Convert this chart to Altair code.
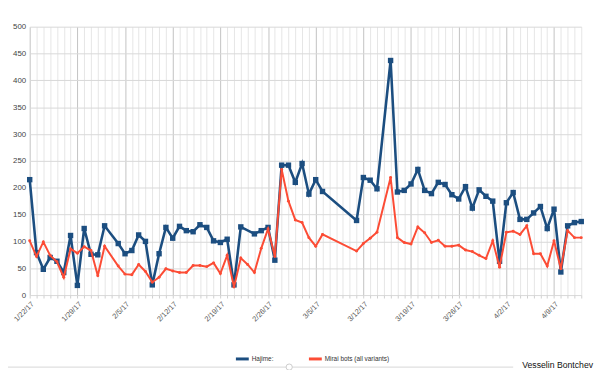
import altair as alt
import pandas as pd

start_date = "2017-01-22"
n_days = 82
series_names = ["Hajime:", "Mirai bots (all variants)"]
colors = ["#1c4e80", "#fc4c35"]
y_ticks = list(range(0, 501, 50))
credit = "Vesselin Bontchev"

hajime = [215, 79, 48, 70, 63, 42, 111, 18, 124, 76, 75, 129, None,
          96, 77, 83, 112, 100, 19, 77, 126, 106, 128, 120, 118, 131, 126, 101, 98, 104, 19, 127,
          None, 114, 120, 126, 65, 242, 242, 210, 245, 188, 215, 193,
          None, None, None, None, 139, 219, 214, 198, None,
          437, 192, 195, 207, 234, 195, 189, 210, 206, 187, 179, 202, 162, 196, 184, 175, 63,
          172, 191, 141, 141, 153, 165, 124, 160, 43, 129, 135, 137]

mirai = [101, 72, 99, 74, 62, 33, 86, 78, 90, 83, 36, 91, None,
         54, 39, 38, 57, 44, 24, 33, 49, 45, 42, 42, 55, 55, 53, 60, 40, 74, 15, 69,
         57, 42, 87, 123, 72, 234, 175, 140, 135, 107, 91, 113,
         None, None, None, None, 82, 96, 106, 117, None,
         219, 107, 98, 95, 127, 116, 98, 102, 91, 91, 93, 84, 81, 74, 68, 101, 52,
         117, 119, 113, 129, 77, 77, 54, 101, 49, 120, 107, 107]

dates = pd.date_range(start_date, periods=n_days, freq="D")
rows = []
for name, vals in zip(series_names, [hajime, mirai]):
    for d, v in zip(dates, vals):
        if v is not None:
            rows.append({"date": d.strftime("%Y-%m-%d"), "series": name, "value": v})
df = pd.DataFrame(rows)

tick_ms = [int(d.timestamp() * 1000) for d in dates]

FONT = "Liberation Sans"

x_enc = alt.X(
    "date:T",
    scale=alt.Scale(type="utc", domain=[tick_ms[0], tick_ms[-1]], nice=False),
    axis=alt.Axis(
        values=tick_ms,
        labelExpr="utcday(datum.value)==0 ? utcFormat(datum.value, '%-m/%-d/%y') : ''",
        labelAngle=-45, labelFontSize=7.5, labelColor="#555", labelFont=FONT,
        labelOverlap=False, labelPadding=2,
        tickSize=3, tickColor="#cfcfcf", domain=False,
        grid=True,
        gridColor={"condition": {"test": "utcday(datum.value)==0", "value": "#c2c2c2"},
                   "value": "#e6e6e6"},
        title=None,
    ),
)
y_enc = alt.Y(
    "value:Q",
    scale=alt.Scale(domain=[0, 500], nice=False),
    axis=alt.Axis(values=y_ticks, grid=True, gridColor="#d8d8d8", ticks=False,
                  domain=False, labelFontSize=8, labelColor="#444", labelFont=FONT,
                  labelPadding=4, title=None),
)

color_enc = alt.Color(
    "series:N",
    scale=alt.Scale(domain=series_names, range=colors),
    legend=alt.Legend(
        orient="none", legendX=207, legendY=328, direction="horizontal", title=None,
        symbolType="stroke", symbolStrokeWidth=3, symbolSize=170,
        labelFontSize=6.5, labelColor="#333", labelFont=FONT,
        columnPadding=28, labelOffset=1,
    ),
)

base = alt.Chart(df)

line_h = base.transform_filter(alt.datum.series == series_names[0]).mark_line(
    strokeWidth=2.6).encode(x=x_enc, y=y_enc, color=color_enc)
pts_h = base.transform_filter(alt.datum.series == series_names[0]).mark_point(
    shape="square", filled=True, size=30, color=colors[0], opacity=1).encode(x=x_enc, y=y_enc)
line_m = base.transform_filter(alt.datum.series == series_names[1]).mark_line(
    strokeWidth=2).encode(x=x_enc, y=y_enc, color=color_enc)
pts_m = base.transform_filter(alt.datum.series == series_names[1]).mark_point(
    shape="circle", filled=True, size=9, color=colors[1], opacity=1).encode(x=x_enc, y=y_enc)

deco_df = pd.DataFrame({"t": [credit]})
credit_text = alt.Chart(deco_df).mark_text(
    align="right", baseline="alphabetic", fontSize=8.8, font=FONT, color="#111"
).encode(x=alt.value(571), y=alt.value(345.5), text="t:N")
slider_line = alt.Chart(deco_df).mark_rule(color="#d6d6d6", strokeWidth=1).encode(
    x=alt.value(-22), x2=alt.value(490), y=alt.value(345))
slider_knob = alt.Chart(deco_df).mark_point(
    shape="circle", size=40, filled=True, fill="white", stroke="#cccccc", strokeWidth=1, opacity=1
).encode(x=alt.value(263), y=alt.value(345))

chart = alt.layer(slider_line, slider_knob, line_h, pts_h, line_m, pts_m, credit_text).properties(
    width=559, height=272,
    padding={"left": 22, "top": 16.5, "right": 20, "bottom": 73},
    autosize="none",
    background="white",
).configure_view(stroke=None)

chart.save("out.html", embed_options={"renderer": "svg", "actions": False})
